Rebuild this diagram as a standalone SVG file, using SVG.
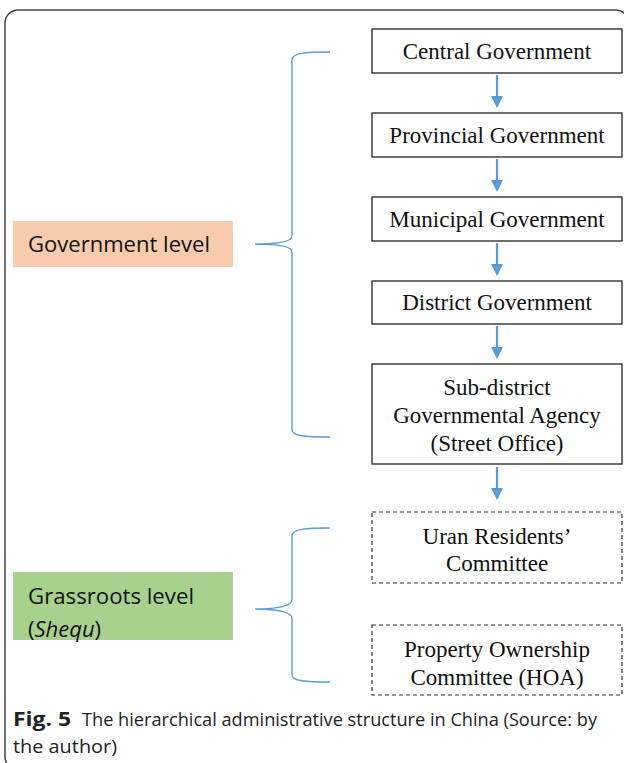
<svg xmlns="http://www.w3.org/2000/svg" width="624" height="763" viewBox="0 0 624 763">
<style>
.box{fill:#fff;stroke:#222;stroke-width:1.3}
.dbox{fill:#fff;stroke:#333;stroke-width:1.2;stroke-dasharray:4 3}
.t{font-family:"Liberation Serif","Times New Roman",serif;font-size:23px;fill:#111;text-anchor:middle}
.lab{font-family:"Open Sans","Liberation Sans",sans-serif;font-size:22px;fill:#111}
.cap{font-family:"Open Sans","Liberation Sans",sans-serif;font-size:19px;fill:#222}
.brace{fill:none;stroke:#5B9BD5;stroke-width:1.4}
.arr{stroke:#5B9BD5;stroke-width:2.2;fill:none}
.head{fill:#5B9BD5}
</style>
<rect x="5" y="10" width="624" height="760" rx="13" fill="#fff" stroke="#444" stroke-width="1.5"/>

<g id="gov-level">
<rect x="13" y="221" width="220" height="46" fill="#F8CBAD"/>
<text class="lab" x="28" y="252" textLength="182" lengthAdjust="spacingAndGlyphs">Government level</text>
</g>
<g id="grass-level">
<rect x="13" y="572" width="220" height="68" fill="#A9D18E"/>
<text class="lab" x="28" y="604" textLength="166" lengthAdjust="spacingAndGlyphs">Grassroots level</text>
<text class="lab" x="28" y="637">(<tspan font-style="italic">Shequ</tspan>)</text>
</g>

<g id="central"><rect class="box" x="372" y="29" width="250" height="44"/><text class="t" x="497" y="59">Central Government</text></g>
<g id="provincial"><rect class="box" x="372" y="113" width="250" height="44"/><text class="t" x="497" y="143">Provincial Government</text></g>
<g id="municipal"><rect class="box" x="372" y="197" width="250" height="44"/><text class="t" x="497" y="227">Municipal Government</text></g>
<g id="district"><rect class="box" x="372" y="281" width="250" height="43"/><text class="t" x="497" y="310">District Government</text></g>
<g id="subdistrict"><rect class="box" x="372" y="364" width="250" height="100"/>
<text class="t" x="497" y="395">Sub-district</text>
<text class="t" x="497" y="423">Governmental Agency</text>
<text class="t" x="497" y="451">(Street Office)</text></g>
<g id="residents"><rect class="dbox" x="372" y="512" width="250" height="71"/>
<text class="t" x="497" y="544">Uran Residents’</text>
<text class="t" x="497" y="571">Committee</text></g>
<g id="hoa"><rect class="dbox" x="372" y="625" width="250" height="70"/>
<text class="t" x="497" y="657">Property Ownership</text>
<text class="t" x="497" y="685">Committee (HOA)</text></g>

<g id="connectors">
<path class="arr" d="M497,75 V98"/><path class="head" d="M491,96 H503 L497,108 Z"/>
<path class="arr" d="M497,159 V182"/><path class="head" d="M491,180 H503 L497,192 Z"/>
<path class="arr" d="M497,243 V266"/><path class="head" d="M491,264 H503 L497,276 Z"/>
<path class="arr" d="M497,326 V349"/><path class="head" d="M491,347 H503 L497,359 Z"/>
<path class="arr" d="M497,467 V490"/><path class="head" d="M491,488 H503 L497,500 Z"/>
<path class="brace" d="M330,52 C305,52 292,53 292,60 V236 C292,241 280,244 255,244 C280,244 292,247 292,252 V430 C292,436 305,437 330,437"/>
<path class="brace" d="M330,528 C305,528 292,529 292,536 V600 C292,605 280,609 255,609 C280,609 292,613 292,618 V675 C292,681 305,682 330,682"/>
</g>

<text class="cap" x="13" y="726" font-weight="bold" textLength="58" lengthAdjust="spacingAndGlyphs">Fig. 5</text>
<text class="cap" x="82" y="726" textLength="515" lengthAdjust="spacingAndGlyphs">The hierarchical administrative structure in China  (Source: by</text>
<text class="cap" x="13" y="753" textLength="104" lengthAdjust="spacingAndGlyphs">the author)</text>
</svg>
